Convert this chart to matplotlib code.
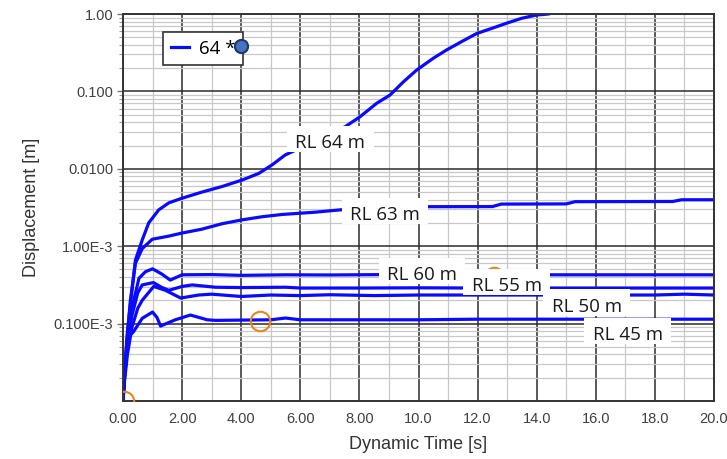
import matplotlib
matplotlib.use('Agg')
import matplotlib.pyplot as plt
from matplotlib.path import Path
from matplotlib.ticker import LogLocator, NullFormatter, MultipleLocator

# --- data ---
t_rl64 = [0, 0.05, 0.15, 0.25, 0.42, 0.65, 0.87, 1.21, 1.55, 2.0, 2.67, 3.35, 4.03, 4.59,
          5.04, 5.49, 6.0, 6.5, 7.0, 7.52, 8.02, 8.58, 9.04, 9.49, 9.94, 10.5, 10.95,
          11.46, 11.97, 12.47, 12.98, 13.49, 13.99, 14.4, 14.8]
d_rl64 = [1.0e-5, 2.5e-5, 7.9e-5, 1.78e-4, 6.6e-4, 1.2e-3, 2.0e-3, 2.95e-3, 3.63e-3, 4.17e-3,
          5.0e-3, 5.9e-3, 7.16e-3, 8.7e-3, 0.0112, 0.0151, 0.0186, 0.0229, 0.0282, 0.035,
          0.047, 0.070, 0.090, 0.133, 0.189, 0.268, 0.343, 0.44, 0.56, 0.65, 0.76, 0.88,
          0.97, 1.0, 1.1]

t_rl63 = [0, 0.05, 0.15, 0.25, 0.42, 0.65, 0.99, 1.55, 2.0, 2.67, 3.35, 4.03, 4.7, 5.38,
          6.5, 7.35, 8.5, 10.3, 12.5, 12.8, 15.0, 15.3, 18.6, 18.9, 20.0]
d_rl63 = [1.0e-5, 2.24e-5, 7.1e-5, 2.0e-4, 6.0e-4, 9.3e-4, 1.23e-3, 1.35e-3, 1.48e-3, 1.66e-3,
          1.95e-3, 2.19e-3, 2.4e-3, 2.57e-3, 2.75e-3, 2.95e-3, 3.09e-3, 3.24e-3, 3.25e-3,
          3.5e-3, 3.52e-3, 3.76e-3, 3.78e-3, 3.98e-3, 3.98e-3]

t_rl60 = [0, 0.05, 0.15, 0.3, 0.54, 0.76, 1.0, 1.3, 1.6, 2.0, 3.0, 4.0, 5.5, 7.0, 9.0,
          12.0, 15.0, 18.0, 20.0]
d_rl60 = [1.0e-5, 2.24e-5, 6.3e-5, 1.58e-4, 3.85e-4, 4.68e-4, 5.1e-4, 4.4e-4, 3.65e-4,
          4.27e-4, 4.3e-4, 4.2e-4, 4.27e-4, 4.25e-4, 4.3e-4, 4.27e-4, 4.27e-4, 4.27e-4, 4.27e-4]

t_rl55 = [0, 0.05, 0.15, 0.3, 0.5, 0.65, 1.03, 1.3, 1.55, 2.0, 2.34, 3.13, 4.0, 5.5, 6.0,
          8.0, 10.0, 12.0, 14.0, 16.0, 18.0, 20.0]
d_rl55 = [1.0e-5, 2.0e-5, 5.0e-5, 1.26e-4, 2.5e-4, 3.16e-4, 3.39e-4, 2.95e-4, 2.69e-4,
          3.02e-4, 3.16e-4, 2.95e-4, 2.92e-4, 2.95e-4, 2.88e-4, 2.88e-4, 2.9e-4, 2.88e-4,
          2.88e-4, 2.88e-4, 2.88e-4, 2.88e-4]

t_rl50 = [0, 0.05, 0.15, 0.3, 0.5, 0.65, 1.04, 1.44, 1.95, 2.56, 3.0, 4.0, 5.0, 6.0, 7.0,
          8.5, 10.0, 12.0, 14.0, 16.0, 18.0, 19.0, 20.0]
d_rl50 = [1.0e-5, 1.78e-5, 4.0e-5, 8.9e-5, 1.58e-4, 2.0e-4, 3.02e-4, 2.69e-4, 2.14e-4,
          2.34e-4, 2.4e-4, 2.24e-4, 2.34e-4, 2.3e-4, 2.36e-4, 2.3e-4, 2.34e-4, 2.34e-4,
          2.34e-4, 2.34e-4, 2.34e-4, 2.4e-4, 2.34e-4]

t_rl45 = [0, 0.05, 0.12, 0.2, 0.36, 0.65, 1.0, 1.15, 1.27, 1.77, 2.28, 2.85, 3.13, 4.0,
          5.0, 5.5, 6.0, 8.0, 10.0, 12.0, 14.0, 16.0, 18.0, 20.0]
d_rl45 = [1.0e-5, 2.0e-5, 4.0e-5, 6.8e-5, 7.9e-5, 1.17e-4, 1.41e-4, 1.2e-4, 9.3e-5,
          1.12e-4, 1.29e-4, 1.12e-4, 1.1e-4, 1.11e-4, 1.12e-4, 1.18e-4, 1.12e-4, 1.12e-4,
          1.12e-4, 1.14e-4, 1.14e-4, 1.14e-4, 1.14e-4, 1.14e-4]

# (time, displacement, label, label x, label baseline y)
series = [
    (t_rl64, d_rl64, 'RL 64 m', 7.01, 0.01857),
    (t_rl63, d_rl63, 'RL 63 m', 8.87, 2.18e-3),
    (t_rl60, d_rl60, 'RL 60 m', 10.12, 3.66e-4),
    (t_rl55, d_rl55, 'RL 55 m', 12.99, 2.60e-4),
    (t_rl50, d_rl50, 'RL 50 m', 15.69, 1.43e-4),
    (t_rl45, d_rl45, 'RL 45 m', 17.08, 6.14e-5),
]

# orange circle markers
circle_t = [0.02, 4.64, 12.57]
circle_d = [1.0e-5, 1.09e-4, 4.0e-4]

x_ticks = [0, 2, 4, 6, 8, 10, 12, 14, 16, 18, 20]
x_labels = ['0.00', '2.00', '4.00', '6.00', '8.00', '10.0', '12.0', '14.0', '16.0', '18.0', '20.0']
y_ticks = [1e-4, 1e-3, 1e-2, 1e-1, 1.0]
y_labels = ['0.100E-3', '1.00E-3', '0.0100', '0.100', '1.00']

blue = '#0a0aff'
tick_col = '#404040'


def label_box(x0, y0, width, height, mutation_size):
    # white box, wider than tall, with more room above the text than below
    padx = 0.45 * mutation_size
    ptop = 0.45 * mutation_size
    pbot = 0.0
    x1, x2 = x0 - padx, x0 + width + padx
    y1, y2 = y0 - pbot, y0 + height + ptop
    return Path([(x1, y1), (x2, y1), (x2, y2), (x1, y2), (x1, y1)], closed=True)


fig = plt.figure(figsize=(7.27, 4.59), dpi=100)
ax = fig.add_axes([123 / 727, 1 - 401 / 459, 591 / 727, 387 / 459])

ax.set_yscale('log')
ax.set_xlim(0, 20)
ax.set_ylim(1e-5, 1.0)

ax.set_xticks(x_ticks)
ax.set_xticklabels(x_labels)
ax.xaxis.set_minor_locator(MultipleLocator(1))
ax.set_yticks(y_ticks)
ax.set_yticklabels(y_labels)
ax.yaxis.set_minor_locator(LogLocator(base=10, subs=range(2, 10)))
ax.yaxis.set_minor_formatter(NullFormatter())

ax.set_axisbelow(True)
ax.grid(which='major', color='#2b2b2b', linewidth=1.1)
ax.grid(which='minor', color='#c8c8c8', linewidth=0.9)

for sp in ax.spines.values():
    sp.set_color('#333333')
    sp.set_linewidth(1.4)

ax.tick_params(axis='x', which='both', length=0, pad=8, labelsize=10.5,
               labelcolor=tick_col)
ax.tick_params(axis='y', which='major', length=4, width=1, color='#777777', pad=3,
               labelsize=10.5, labelcolor=tick_col)
ax.tick_params(axis='y', which='minor', length=3, width=0.8, color='#999999')
for lab in ax.get_xticklabels() + ax.get_yticklabels():
    lab.set_fontfamily('Liberation Sans')

for i, (t, d, name, lx, ly) in enumerate(series):
    ax.plot(t, d, color=blue, linewidth=2.3, zorder=2,
            label='64 *' if i == 0 else None)

ax.plot(circle_t, circle_d, linestyle='none', marker='o', markersize=14,
        markerfacecolor='none', markeredgecolor='#e8861a', markeredgewidth=1.5, zorder=3)

for t, d, name, lx, ly in series:
    ax.text(lx, ly, name, ha='center', va='baseline', fontsize=13.5,
            fontfamily='Open Sans', color='#1a1a1a', zorder=4,
            bbox=dict(boxstyle=label_box, facecolor='white', edgecolor='none'))

ax.set_xlabel('Dynamic Time [s]', fontsize=13, fontfamily='Liberation Sans',
              color='#333333', labelpad=7)
ax.set_ylabel('Displacement [m]', fontsize=13, fontfamily='Liberation Sans',
              color='#333333', labelpad=10)

leg = ax.legend(loc='upper left', bbox_to_anchor=(0.068, 0.953), fancybox=False,
                framealpha=1, edgecolor='#333333', handlelength=1.0, handletextpad=0.5,
                borderpad=0.4, borderaxespad=0,
                prop={'family': 'Open Sans', 'size': 13.5})
leg.get_frame().set_linewidth(1.2)
leg.set_zorder(5)

ax.plot([0.199], [0.918], transform=ax.transAxes, clip_on=False, marker='o',
        markersize=9.5, markerfacecolor='#4472c4', markeredgecolor='#1f3864',
        markeredgewidth=1.5, zorder=6)

fig.savefig('out.png', dpi=100)
